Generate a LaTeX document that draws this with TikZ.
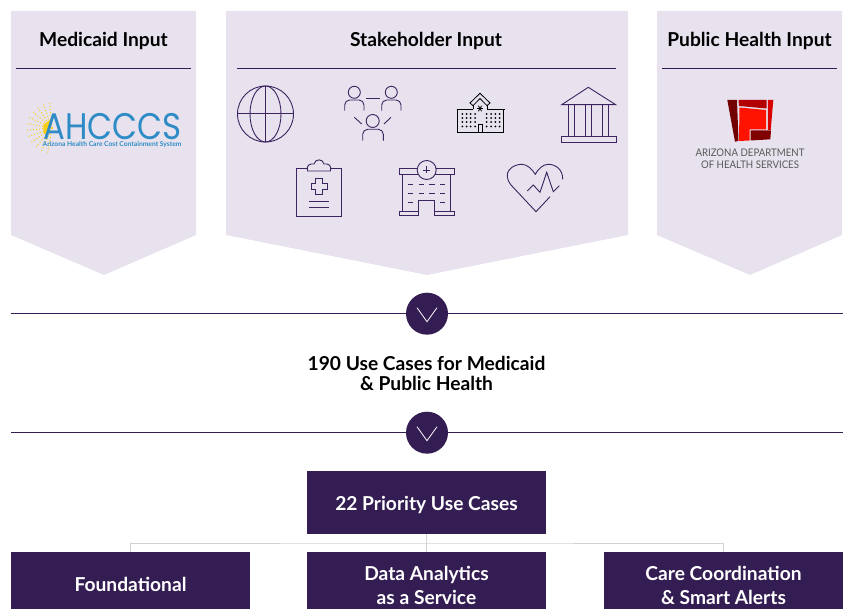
\documentclass[tikz,border=0pt]{standalone}
\usepackage{fontspec}
\setmainfont{Lato}
\newfontfamily\logofont{Poppins}
\usetikzlibrary{positioning}
\definecolor{panelcol}{HTML}{E7E2EE}
\definecolor{darkcol}{HTML}{341D52}
\definecolor{iconcol}{HTML}{3B2460}
\definecolor{treecol}{HTML}{D2D2D2}
\definecolor{ahcol}{HTML}{2E8BC6}
\definecolor{suncol}{HTML}{F7CE16}
\newcommand{\twolines}[2]{\raisebox{-9.5pt}[0pt][0pt]{\begin{tabular}{@{}c@{}}#1\\#2\end{tabular}}}

\begin{document}
\begin{tikzpicture}[
    x=1pt, y=-1pt,
    panel/.style={fill=panelcol, draw=none},
    title/.style={font=\fontsize{19.2}{20}\selectfont\bfseries, text=black, inner sep=0pt},
    rulel/.style={draw=darkcol, line width=1pt},
    icon/.style={draw=iconcol, line width=0.9pt},
    school/.style={draw=black, line width=0.8pt},
    hub/.style={circle, fill=darkcol, minimum size=42pt, inner sep=0pt},
    chevron/.style={draw=white, line width=0.8pt},
    bluebox/.style={rectangle, fill=darkcol, text=white, minimum width=239pt, minimum height=63pt,
                  inner sep=0pt, align=center, font=\fontsize{19.2}{24}\selectfont\bfseries},
    lift/.style={execute at begin node={\rule{0pt}{#1}}},
    tree/.style={draw=treecol, line width=1pt}
]
    \useasboundingbox (0,0) rectangle (846,609);

    % Panels
    \fill[panel] (11,11) -- (196,11) -- (196,235) -- (104,275) -- (11,235) -- cycle;
    \fill[panel] (226,11) -- (628,11) -- (628,235) -- (427,275) -- (226,235) -- cycle;
    \fill[panel] (657,11) -- (842,11) -- (842,235) -- (750,275) -- (657,235) -- cycle;
    \node[title] (medicaid) at (103.5,40.5) {Medicaid Input};
    \node[title] (stake) at (426,40.5) {Stakeholder Input};
    \node[title] (public) at (749.5,40.5) {Public Health Input};
    \draw[rulel] (16,68.5) -- (191,68.5);
    \draw[rulel] (237,68.5) -- (616,68.5);
    \draw[rulel] (662,68.5) -- (837,68.5);

    % AHCCCS logo
    \foreach \a in {100,115,...,265}
        \draw[suncol, line width=1pt, dotted] (52,128) -- ++(\a:25);
    \fill[suncol] (51.7,118.3) -- (43.3,125) -- (43.3,133) -- (46.7,135) -- cycle;
    \node[inner sep=0pt, text=ahcol, xscale=0.875, text height=26pt, text depth=0pt, font=\fontsize{37}{37}\logofont] (ahcccs) at (112.5,126.5) {AHCCCS};
    \node[inner sep=0pt, text=ahcol, text height=5pt, text depth=1pt, font=\fontsize{6.7}{7}\selectfont\bfseries] (ahname) at (112,144.5) {Arizona Health Care Cost Containment System};

    % Globe
    \draw[icon] (265.5,114) circle (28);
    \draw[icon] (265.5,114) ellipse [x radius=15.5, y radius=28];
    \draw[icon] (265.5,86) -- (265.5,142);
    \draw[icon] (237.5,113.5) -- (293.5,113.5);

    % People
    \draw[icon] (354.3,92.3) circle (6) (391.3,92.3) circle (6) (372.7,121) circle (6.5);
    \draw[icon, rounded corners=5pt] (344.7,110.7) -- (344.7,100) -- (364,100) -- (364,110.7);
    \draw[icon, rounded corners=5pt] (381.7,110.7) -- (381.7,100) -- (401,100) -- (401,110.7);
    \draw[icon, rounded corners=5pt] (362.7,140.7) -- (362.7,129.3) -- (383.3,129.3) -- (383.3,140.7);
    \draw[icon] (366,98.7) -- (380,98.7);
    \draw[icon] (354.3,117.3) -- (361.7,124);
    \draw[icon] (391,117.3) -- (384,124);

    % School building
    \draw[school] (456.5,109.3) -- (473,109.3) (487,109.3) -- (504.5,109.3);
    \draw[school] (457.5,109.3) -- (457.5,132.7) -- (503.3,132.7) -- (503.3,109.3);
    \draw[school] (473,109.3) -- (473,105) (487,105) -- (487,109.3);
    \draw[school] (470,103) -- (480,93.3) -- (490,103) -- (487,105.7) -- (480,98.5) -- (473,105.7) -- cycle;
    \foreach \a in {0,60,120}
        \draw[black, line width=0.8pt] (480,108.5) -- ++(\a:3.2) (480,108.5) -- ++(\a+180:3.2);
    \draw[school] (478,124.3) rectangle (482.7,132.7);
    \foreach \y in {114,118,122,126.5}
      \foreach \x in {462.3,466.5,470.7,475,486.7,491,495.3,499.5}
        \fill[black] (\x,\y) circle (1);

    % Columns
    \draw[icon] (561.7,104.7) -- (588.3,87.3) -- (615.7,104.7) -- cycle;
    \foreach \x in {568.3,574,585.3,591.3,602.7,608.7}
        \draw[icon] (\x,104.7) -- (\x,136);
    \draw[icon] (561.3,136) rectangle (616,142.3);

    % Clipboard
    \draw[icon] (307.5,168.3) -- (296.7,168.3) -- (296.7,216) -- (341.7,216) -- (341.7,168.3) -- (330.5,168.3);
    \draw[icon] (307.5,171) .. controls (306,165) and (310,163.5) .. (314,164) .. controls (315,158.5) and (323,158.5) .. (324,164) .. controls (328,163.5) and (332,165) .. (330.5,171) -- cycle;
    \draw[icon] (315.7,178.5) -- (322.3,178.5) -- (322.3,183) -- (327,183) -- (327,189.5) -- (322.3,189.5) -- (322.3,194) -- (315.7,194) -- (315.7,189.5) -- (311,189.5) -- (311,183) -- (315.7,183) -- cycle;
    \draw[icon] (309.3,201.7) -- (328.7,201.7);
    \draw[icon] (309.3,207.7) -- (328.7,207.7);

    % Clinic
    \draw[icon] (399.3,168.3) rectangle (454,174);
    \draw[icon] (402.3,174) -- (402.3,211) (450.7,174) -- (450.7,211);
    \draw[icon] (399.3,211) rectangle (454,215.7);
    \draw[icon, fill=panelcol] (426.7,170) circle (9.5);
    \draw[icon] (423.2,170) -- (430.2,170) (426.7,166.5) -- (426.7,173.5);
    \draw[icon, fill=panelcol] (418.3,215.7) -- (418.3,200.7) -- (434.7,200.7) -- (434.7,215.7);
    \foreach \y in {184.3,193.7}
      \foreach \x in {408,418.7,429.3,440}
        \draw[icon] (\x,\y) -- ++(5.3,0);
    \draw[icon] (408,202.7) -- ++(5.3,0) (440,202.7) -- ++(5.3,0);

    % Heart
    \draw[icon] (550,196.7) -- (536,211.7) -- (511,185) .. controls (501,172) and (513,164.3) .. (521.7,164.3) .. controls (527,164.3) and (532,169) .. (535.3,174.3) .. controls (538,169) and (543,164.3) .. (548.3,164.3) .. controls (556,164.3) and (563,170) .. (562.7,179.3);
    \draw[icon] (527.3,191) -- (533.3,185) -- (540,192.3) -- (546.7,172.3) -- (553.3,191.7) -- (559.3,185.7);

    % State logo
    \fill[red!45!black] (727.3,100) -- (737,100) -- (738.5,141) -- (735,141.7) -- cycle;
    \fill[red!70!black] (738.5,100) -- (766.5,100) -- (766.5,108.5) -- (739,106) -- cycle;
    \fill[red!85!black] (767.8,100) -- (773.3,100) -- (770.7,130) -- (767.8,130) -- cycle;
    \fill[red!85!orange] (739.5,107.5) -- (766,110) -- (766,129.5) -- (749.5,129.5) -- (749.5,140.5) -- (739,141) -- cycle;
    \fill[red!50!black] (750.5,130.5) -- (771,130.5) -- (770.3,139.3) -- (750.5,140.5) -- cycle;
    \node[inner sep=0pt, text=black!65, align=center, xscale=0.92, font=\fontsize{10.5}{11.6}\selectfont] (dhs) at (750,158.5) {ARIZONA DEPARTMENT\\OF HEALTH SERVICES};

    % Dividers
    \node[hub] (downA) at (427,313.7) {};
    \node[hub] (downB) at (427,432.7) {};
    \coordinate (leftA) at (11,313.7);
    \coordinate (rightA) at (843,313.7);
    \coordinate (leftB) at (11,432.7);
    \coordinate (rightB) at (843,432.7);
    \draw[rulel] (leftA) -- (downA);
    \draw[rulel] (downA) -- (rightA);
    \draw[rulel] (leftB) -- (downB);
    \draw[rulel] (downB) -- (rightB);
    \draw[chevron] ([xshift=-10pt,yshift=6pt]downA.center) -- ([yshift=-8pt]downA.center) -- ([xshift=10pt,yshift=6pt]downA.center);
    \draw[chevron] ([xshift=-10pt,yshift=6pt]downB.center) -- ([yshift=-8pt]downB.center) -- ([xshift=10pt,yshift=6pt]downB.center);
    \node[title, align=center] (cases) at (426.5,373.5) {190 Use Cases for Medicaid\\\& Public Health};

    % Priority tree
    \node[bluebox, lift=19pt] (priority) at (426.5,502.5) {22 Priority Use Cases};
    \node[bluebox, lift=16pt] (found) at (130.5,583.5) {Foundational};
    \node[bluebox] (analytics) at (426.5,583.5) {\twolines{Data Analytics}{as a Service}};
    \node[bluebox] (care) at (723.5,583.5) {\twolines{Care Coordination}{\& Smart Alerts}};
    \coordinate (branch) at (426.5,543);
    \draw[tree] (priority) -- (analytics);
    \draw[tree] (found) |- (branch) -| (care);
\end{tikzpicture}
\end{document}
